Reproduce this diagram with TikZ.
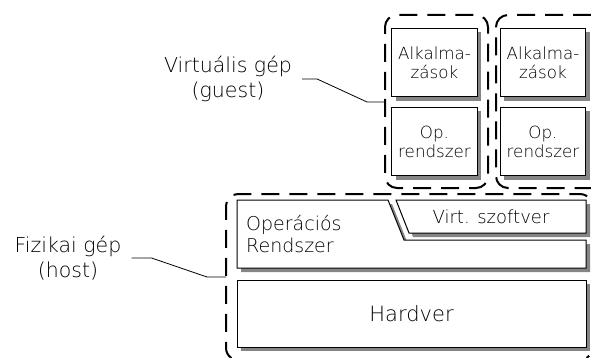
\documentclass[tikz,border=0pt]{standalone}
\usepackage{fontspec}
\setmainfont{DejaVu Sans ExtraLight}
\usetikzlibrary{shadows}

\definecolor{shadowgray}{gray}{0.52}

\tikzset{
  vmframe/.style={draw=black, line width=2pt, dash pattern=on 18pt off 10pt},
  layerbox/.style={draw=black, line width=1pt, fill=white, inner sep=0pt, outer sep=0pt,
    align=center, font=\fontsize{16.7pt}{19pt}\selectfont,
    drop shadow={shadow xshift=4pt, shadow yshift=-4pt, fill=shadowgray, opacity=1}},
  layerpoly/.style={draw=black, line width=1pt, fill=white},
  polyshadow/.style={draw=none, fill=shadowgray, shift={(4,4)}},
  sidelabel/.style={align=center, inner xsep=10pt, inner ysep=0pt,
    font=\fontsize{20.5pt}{25.5pt}\selectfont},
  leader/.style={draw=black, line width=0.8pt},
}

\begin{document}
\begin{tikzpicture}[x=1pt, y=-1pt]
\useasboundingbox (0,0) rectangle (591,358);

% dashed frames (the host frame and the second guest run off the page edge)
\draw[vmframe] (231.4,358) arc[start angle=123.4, end angle=180, radius=12]
  -- (226,206) arc[start angle=180, end angle=270, radius=12]
  -- (580,194) arc[start angle=270, end angle=336, radius=12];
\draw[vmframe] (586.6,358) arc[start angle=56.4, end angle=40, radius=12];
\draw[vmframe, rounded corners=12pt] (385,102) -- (385,15) -- (488,15) -- (488,188) -- (385,188) -- cycle;
\draw[vmframe, rounded corners=12pt] (591,15) -- (496,15) -- (496,188) -- (591,188);
\coordinate (guest1w) at (385,102);
\coordinate (hostw) at (226,277);

% guest layers
\node[layerbox, minimum width=85.5pt, minimum height=68.5pt] (app1) at (434.5,62.5) {Alkalma-\\zások};
\node[layerbox, minimum width=85.5pt, minimum height=68.5pt] (os1) at (434.5,141.5) {Op.\\rendszer};
\node[layerbox, minimum width=85.5pt, minimum height=68.5pt] (app2) at (543,62.5) {Alkalma-\\zások};
\node[layerbox, minimum width=85.5pt, minimum height=68.5pt] (os2) at (543,141.5) {Op.\\rendszer};

% host operating system with the notch for the virtualisation software
\def\hostos{(237,200) -- (388,200) -- (404,240) -- (586,240) -- (586,268) -- (237,268) -- cycle}
\path[polyshadow] \hostos;
\path[layerpoly] \hostos;
\node[anchor=west, align=left, inner sep=0pt, font=\fontsize{19pt}{22pt}\selectfont] (hostos) at (246,234) {Operációs\\Rendszer};

% virtualisation software
\def\virtsw{(396,200) -- (586,200) -- (586,233) -- (409,233) -- cycle}
\path[polyshadow] \virtsw;
\path[layerpoly] \virtsw;
\node[inner sep=0pt, font=\fontsize{18pt}{22pt}\selectfont] (virt) at (491,216.5) {Virt. szoftver};

% hardware
\node[layerbox, minimum width=349pt, minimum height=67pt, font=\fontsize{21pt}{25pt}\selectfont] (hw) at (411.5,313.5) {Hardver};

% side labels with leader lines
\node[sidelabel] (glabel) at (228,79) {Virtuális gép\\(guest)};
\node[sidelabel] (hlabel) at (68,258) {Fizikai gép\\(host)};

\coordinate (gbend) at (367,102);
\coordinate (hbend) at (207,277);
\draw[leader] (glabel.east) -- ++(15,0) -- (gbend) -- (guest1w);
\draw[leader] (hlabel.east) -- ++(20,0) -- (hbend) -- (hostw);
\end{tikzpicture}
\end{document}
